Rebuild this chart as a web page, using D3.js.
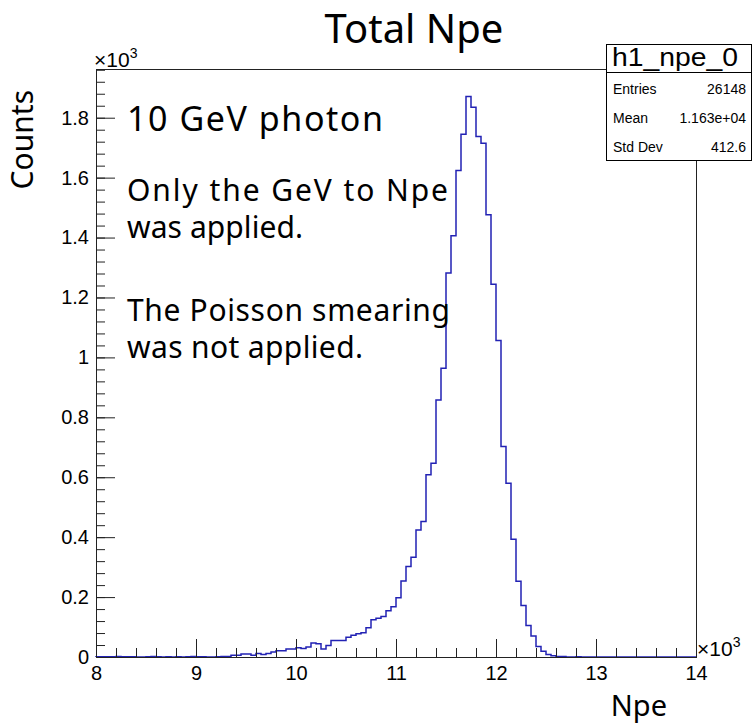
<!DOCTYPE html>
<html>
<head>
<meta charset="utf-8">
<script src="https://cdn.jsdelivr.net/npm/d3@7"></script>
<style>
  body { margin: 0; background: #fff; }
  svg { display: block; }
</style>
</head>
<body>
<div id="chart"></div>
<script>
// histogram h1_npe_0 : 120 bins of 50 Npe from 8000 to 14000
const xMin = 8000;
const xMax = 14000;
const binWidth = 50;
const counts = [
  1, 1, 1, 1, 2, 1, 1, 1, 0, 0,
  1, 2, 1, 0, 1, 0, 1, 0, 1, 2,
  1, 1, 0, 0, 1, 2, 2, 6, 6, 10,
  10, 6, 12, 8, 12, 17, 21, 21, 27, 27,
  31, 28, 33, 47, 44, 27, 38, 55, 55, 55,
  66, 73, 78, 81, 98, 124, 129, 135, 154, 168,
  198, 254, 302, 333, 424, 452, 608, 647, 858, 964,
  1282, 1406, 1624, 1745, 1871, 1835, 1737, 1715, 1476, 1244,
  1056, 703, 580, 393, 253, 172, 105, 70, 35, 19,
  8, 4, 2, 2, 0, 0, 1, 0, 0, 0,
  0, 0, 0, 0, 0, 0, 0, 0, 0, 0,
  0, 0, 0, 0, 0, 0, 0, 0, 0, 0
];
const xTicks = [8000, 9000, 10000, 11000, 12000, 13000, 14000];
const yTicks = [0, 200, 400, 600, 800, 1000, 1200, 1400, 1600, 1800];
const yMax = 1962.6;

const statsRows = [
  ['Entries', '26148'],
  ['Mean', '1.163e+04'],
  ['Std Dev', '412.6']
];
const notes = [
  { text: '10 GeV photon', size: 34, y: 131, len: 256 },
  { text: 'Only the GeV to Npe', size: 30, y: 201, len: 321 },
  { text: 'was applied.', size: 30, y: 238, len: 176 },
  { text: 'The Poisson smearing', size: 30, y: 321, len: 323 },
  { text: 'was not applied.', size: 30, y: 358, len: 236 }
];

const W = 752, H = 725;
const frame = { left: 96, right: 696, top: 69, bottom: 657 };
const sans = '"Liberation Sans", Arial, sans-serif';
const textFont = '"Noto Sans", "Open Sans", sans-serif';

const svg = d3.select('#chart').append('svg')
  .attr('width', W)
  .attr('height', H);

const x = d3.scaleLinear().domain([xMin, xMax]).range([frame.left, frame.right]);
const y = d3.scaleLinear().domain([0, yMax]).range([frame.bottom, frame.top]);

// frame
svg.append('rect')
  .attr('x', frame.left + 0.5)
  .attr('y', frame.top + 0.5)
  .attr('width', frame.right - frame.left)
  .attr('height', frame.bottom - frame.top)
  .attr('fill', 'none')
  .attr('stroke', '#222');

// histogram outline (step)
const pts = [[x(xMin), y(0)]];
counts.forEach((c, i) => {
  const x0 = x(xMin + i * binWidth), x1 = x(xMin + (i + 1) * binWidth);
  pts.push([x0, y(c)], [x1, y(c)]);
});
pts.push([x(xMax), y(0)]);

svg.append('path')
  .attr('d', d3.line()(pts))
  .attr('fill', 'none')
  .attr('stroke', '#2222b4')
  .attr('stroke-width', 1.5);

// axes
const xAxis = svg.append('g')
  .attr('transform', `translate(0,${frame.bottom})`);
xAxis.append('g')
  .call(d3.axisBottom(x).tickValues(d3.range(xMin, xMax + 1, 200)).tickSize(-9).tickFormat(''));
xAxis.append('g')
  .call(d3.axisBottom(x).tickValues(xTicks).tickSize(-18).tickPadding(9)
    .tickFormat(d => d / 1000));
xAxis.selectAll('.domain').remove();
xAxis.selectAll('.tick line').attr('stroke', '#222');
xAxis.selectAll('text').attr('font-family', sans).attr('font-size', 20).attr('fill', '#000');

const yAxis = svg.append('g')
  .attr('transform', `translate(${frame.left},0)`);
yAxis.append('g')
  .call(d3.axisLeft(y).tickValues(d3.range(0, yMax, 40)).tickSize(-9).tickFormat(''));
yAxis.append('g')
  .call(d3.axisLeft(y).tickValues(yTicks).tickSize(-19).tickPadding(7)
    .tickFormat(d => `${+(d / 1000).toFixed(1)}`));
yAxis.selectAll('.domain').remove();
yAxis.selectAll('.tick line').attr('stroke', '#222');
yAxis.selectAll('text').attr('font-family', sans).attr('font-size', 20).attr('fill', '#000');

// axis line on top of the zero bins
svg.append('line')
  .attr('x1', frame.left).attr('x2', frame.right + 1)
  .attr('y1', frame.bottom + 0.5).attr('y2', frame.bottom + 0.5)
  .attr('stroke', '#222');

// x10^3 exponents
function expo(px, py) {
  const t = svg.append('text')
    .attr('x', px).attr('y', py)
    .attr('font-family', sans).attr('font-size', 21);
  t.append('tspan').text('×10');
  t.append('tspan').attr('dy', -9).attr('font-size', 14).text('3');
}
expo(94, 67);
expo(697, 656);

// titles
svg.append('text')
  .attr('x', 414).attr('y', 43)
  .attr('text-anchor', 'middle')
  .attr('font-family', textFont).attr('font-size', 40)
  .text('Total Npe');

svg.append('text')
  .attr('x', 667).attr('y', 716)
  .attr('text-anchor', 'end')
  .attr('font-family', textFont).attr('font-size', 29)
  .text('Npe');

svg.append('text')
  .attr('transform', 'translate(33,90) rotate(-90)')
  .attr('text-anchor', 'end')
  .attr('font-family', textFont).attr('font-size', 30)
  .text('Counts');

// annotations
notes.forEach(n => {
  svg.append('text')
    .attr('x', 127).attr('y', n.y)
    .attr('font-family', textFont).attr('font-size', n.size)
    .attr('textLength', n.len).attr('lengthAdjust', 'spacing')
    .text(n.text);
});

// stats box
const box = { x: 606.5, y: 44.5, w: 145, h: 116, sep: 72.5 };
svg.append('rect')
  .attr('x', box.x).attr('y', box.y)
  .attr('width', box.w).attr('height', box.h)
  .attr('fill', '#fff').attr('stroke', '#000');
svg.append('line')
  .attr('x1', box.x).attr('x2', box.x + box.w)
  .attr('y1', box.sep).attr('y2', box.sep)
  .attr('stroke', '#000');
svg.append('text')
  .attr('x', 675).attr('y', 66)
  .attr('text-anchor', 'middle')
  .attr('font-family', sans).attr('font-size', 25)
  .attr('textLength', 126).attr('lengthAdjust', 'spacingAndGlyphs')
  .text('h1_npe_0');
statsRows.forEach((r, i) => {
  const by = 94 + i * 29;
  svg.append('text')
    .attr('x', 613).attr('y', by)
    .attr('font-family', sans).attr('font-size', 14)
    .text(r[0]);
  svg.append('text')
    .attr('x', 746).attr('y', by)
    .attr('text-anchor', 'end')
    .attr('font-family', sans).attr('font-size', 14)
    .text(r[1]);
});
</script>
</body>
</html>
